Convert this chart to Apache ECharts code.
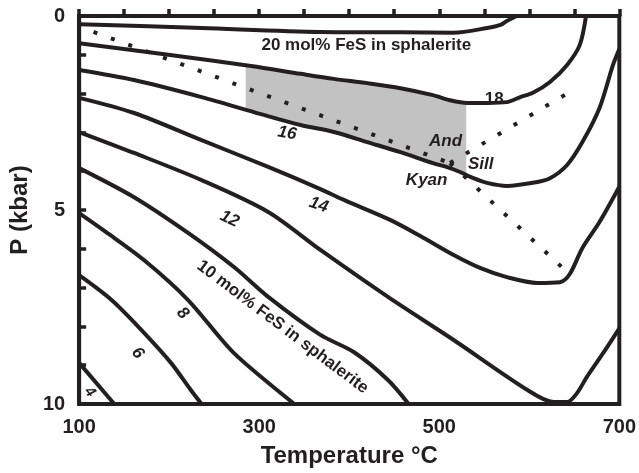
<!DOCTYPE html>
<html><head><meta charset="utf-8">
<script src="https://cdn.jsdelivr.net/npm/echarts@6/dist/echarts.min.js"></script>
<style>html,body{margin:0;padding:0;background:#fff}#c{width:639px;height:473px}</style>
</head><body><div id="c"></div>
<script>
// Tick labels
const xTickLabels = [100, 300, 500, 700];
const yTickLabels = [0, 5, 10];

// FeS-in-sphalerite isopleths: [T (°C), P (kbar)]
const iso20 = [[100,0.21],[236,0.31],[368,0.41],[457,0.42],[516,0.43],[553,0.31],[568,0.23],[575,0.13],[586,0]];
const iso18 = [[100,0.70],[199,1.0],[291,1.29],[346,1.49],[383,1.62],[420,1.73],[457,1.86],[493,2.04],[512,2.17],[531,2.24],[553,2.24],[575,2.22],[590,2.09],[604,1.98],[623,1.7],[642,1.26],[656,0.75],[663,0]];
const iso16 = [[100,1.39],[161,1.65],[236,2.09],[302,2.53],[346,2.81],[383,2.99],[420,3.25],[457,3.51],[493,3.79],[512,3.92],[523,4.02],[538,4.18],[553,4.30],[575,4.38],[604,4.30],[623,4.18],[642,3.84],[659,3.25],[678,2.37],[693,1.26],[700,0.85]];
const iso14 = [[100,2.11],[161,2.5],[236,3.2],[310,3.89],[368,4.46],[394,4.74],[446,5.26],[479,5.67],[516,6.16],[546,6.5],[575,6.73],[609,6.88],[634,6.86],[645,6.65],[659,5.98],[678,5.31],[700,4.4]];
const iso12 = [[100,2.99],[161,3.53],[236,4.23],[310,5.05],[368,6.03],[443,7.24],[516,8.35],[598,9.64],[627,9.95],[642,9.95],[653,9.72],[664,9.3],[682,8.69],[700,8.05]];
const iso10 = [[100,3.92],[161,4.67],[221,5.59],[272,6.47],[310,7.24],[368,8.22],[405,8.66],[443,9.38],[466,10]];
const iso8  = [[100,5.08],[130,5.57],[172,6.29],[221,7.32],[272,8.69],[339,10]];
const iso6  = [[100,6.68],[136,7.32],[169,8.09],[202,8.94],[224,9.64],[236,10]];
const iso4  = [[100,8.94],[139,10]];

// Al2SiO5 phase boundaries
const andKy  = [[116,0.41],[512,3.79]];
const andSil = [[512,3.79],[652,1.86]];
const kySil  = [[512,3.79],[643,6.62]];

// Shaded field, bounded by the 18 and 16 isopleths
const shadeTop    = [[285,1.26],[346,1.49],[383,1.62],[420,1.73],[457,1.86],[493,2.04],[512,2.17],[530,2.24]];
const shadeBottom = [[285,2.42],[302,2.53],[346,2.81],[383,2.99],[420,3.25],[457,3.51],[493,3.79],[512,3.92],[523,4.02],[530,4.1]];

// In-plot labels and their anchors
const labelTexts = ['20 mol% FeS in sphalerite','18','16','14','12','10 mol% FeS in sphalerite','8','6','4','And','Sill','Kyan'];
const labelAnchors = [[419,0.75],[561,2.14],[331,3.02],[366,4.87],[267,5.23],[326,8.02],[215,7.66],[165,8.69],[112,9.69],[507,3.22],[546,3.83],[486,4.23]];

const INK = '#231f20';
const FONT = '"Liberation Sans", Arial, sans-serif';
const labelRotate = [0,0,-10,-18,-25,-37,-45,-50,-50,0,0,0];
const labelItalic = [false,false,true,true,true,false,true,true,true,true,true,true];
const labelSize   = [17,17,17,17,17,17,17,17,15,17,17,17];

const isoSeries = [iso20, iso18, iso16, iso14, iso12, iso10, iso8, iso6, iso4].map(d => ({
  type: 'line', data: d, smooth: 0.3, showSymbol: false, silent: true, z: 3,
  lineStyle: { color: INK, width: 4 }
}));
const dotSeries = [andKy, andSil, kySil].map(d => ({
  type: 'line', data: d, smooth: false, showSymbol: false, silent: true, z: 4,
  lineStyle: { color: INK, width: 4, type: [4, 14.5], cap: 'butt' }
}));

const chart = echarts.init(document.getElementById('c'), null, { renderer: 'canvas' });
chart.setOption({
  animation: false,
  backgroundColor: '#fff',
  grid: { left: 77.5, right: 19.5, top: 16, bottom: 69, show: true, borderColor: INK, borderWidth: 4, backgroundColor: 'transparent' },
  xAxis: {
    type: 'value', min: 100, max: 700, interval: 50,
    axisLine: { show: true, lineStyle: { color: INK, width: 4 } },
    axisTick: { show: true, inside: true, length: 7, lineStyle: { color: INK, width: 3.5 } },
    axisLabel: { formatter: v => xTickLabels.includes(v) ? String(v) : '', color: INK, fontSize: 20, fontWeight: 'bold', fontFamily: FONT, margin: 13 },
    splitLine: { show: false },
    name: 'Temperature °C', nameLocation: 'middle', nameGap: 40,
    nameTextStyle: { color: INK, fontSize: 24, fontWeight: 'bold', fontFamily: FONT }
  },
  yAxis: {
    type: 'value', min: 0, max: 10, interval: 1, inverse: true,
    axisLine: { show: true, lineStyle: { color: INK, width: 4 } },
    axisTick: { show: true, inside: true, length: 7, lineStyle: { color: INK, width: 3.5 } },
    axisLabel: { formatter: v => yTickLabels.includes(v) ? String(v) : '', color: INK, fontSize: 20, fontWeight: 'bold', fontFamily: FONT, margin: 14 },
    splitLine: { show: false },
    name: 'P (kbar)', nameLocation: 'middle', nameGap: 42, nameRotate: 90,
    nameTextStyle: { color: INK, fontSize: 24, fontWeight: 'bold', fontFamily: FONT }
  },
  series: [
    {
      type: 'custom', silent: true, z: 1, data: [[400, 3]],
      renderItem: (params, api) => {
        const pts = shadeTop.concat(shadeBottom.slice().reverse()).map(p => api.coord(p));
        return { type: 'polygon', shape: { points: pts }, style: { fill: '#c2c2c2' } };
      }
    },
    ...isoSeries,
    ...dotSeries,
    {
      type: 'scatter', silent: true, z: 5, symbol: 'circle', symbolSize: 0,
      itemStyle: { opacity: 1, color: INK },
      data: labelAnchors.map((p, i) => ({
        value: p,
        label: {
          show: true, position: 'inside', formatter: labelTexts[i], rotate: labelRotate[i],
          fontStyle: labelItalic[i] ? 'italic' : 'normal', fontWeight: 'bold',
          fontSize: labelSize[i], fontFamily: FONT, color: INK, opacity: 1,
          textBorderWidth: 0
        }
      }))
    }
  ]
});
</script>
</body></html>
